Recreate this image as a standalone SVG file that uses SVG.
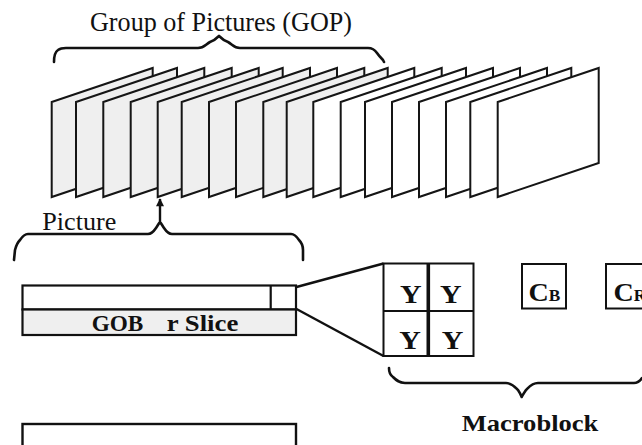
<svg xmlns="http://www.w3.org/2000/svg" width="642" height="445" viewBox="0 0 642 445" font-family="'Liberation Serif', 'Times New Roman', serif">
  <style>
    .frame { stroke: #151515; stroke-width: 2; stroke-linejoin: miter; }
    .gray { fill: #efefef; }
    .white { fill: #ffffff; }
    .brace { fill: none; stroke: #111; stroke-width: 2.6; stroke-linejoin: round; stroke-linecap: round; }
    .box { fill: #ffffff; stroke: #111; stroke-width: 2; }
    .line { fill: none; stroke: #111; stroke-width: 2.4; }
    text { font-family: 'Liberation Serif', 'Times New Roman', serif; fill: #111; }
  </style>
  <defs>
    <!-- one picture of the sequence, drawn as a skewed sheet -->
    <path id="sheet" d="M0,0 L101,-34 L101,61 L0,95 Z"/>
    <marker id="arrow" viewBox="0 0 10 10" refX="9" refY="5" markerWidth="9" markerHeight="8" orient="auto" markerUnits="userSpaceOnUse">
      <path d="M0,0 L10,5 L0,10 Z" fill="#111"/>
    </marker>
  </defs>
  <rect width="642" height="445" fill="#ffffff"/>

  <!-- Group of pictures -->
  <g id="gop">
    <text x="90" y="31" font-size="27" textLength="262" lengthAdjust="spacingAndGlyphs">Group of Pictures (GOP)</text>
    <path class="brace" d="M54,62 C54,56 55,52 58,50 C60,48.5 62,48 66,48 L198,48 C204,48 206,44 210,42 C213,41 216,39 219,36 C222,39 225,41 228,42 C232,44 234,48 240,48 L368,48 C373,48 375,50 377,53 C379,56 381,58 383,60 L384,62"/>
    <g id="frames">
      <use href="#sheet" class="frame gray" x="51.7" y="102"/>
      <use href="#sheet" class="frame gray" x="76" y="102"/>
      <use href="#sheet" class="frame gray" x="103.3" y="102"/>
      <use href="#sheet" class="frame gray" x="130.7" y="102"/>
      <use href="#sheet" class="frame gray" x="157.7" y="102"/>
      <use href="#sheet" class="frame gray" x="181.7" y="102"/>
      <use href="#sheet" class="frame gray" x="209" y="102"/>
      <use href="#sheet" class="frame gray" x="236" y="102"/>
      <use href="#sheet" class="frame gray" x="263.3" y="102"/>
      <use href="#sheet" class="frame gray" x="286.7" y="102"/>
      <use href="#sheet" class="frame white" x="313.3" y="102"/>
      <use href="#sheet" class="frame white" x="340.7" y="102"/>
      <use href="#sheet" class="frame white" x="365" y="102"/>
      <use href="#sheet" class="frame white" x="392" y="102"/>
      <use href="#sheet" class="frame white" x="419" y="102"/>
      <use href="#sheet" class="frame white" x="446" y="102"/>
      <use href="#sheet" class="frame white" x="470.3" y="102"/>
      <use href="#sheet" class="frame white" x="497.7" y="102"/>
    </g>
  </g>

  <!-- Picture -->
  <g id="picture">
    <text x="42.3" y="229.5" font-size="25" textLength="74" lengthAdjust="spacingAndGlyphs">Picture</text>
    <path class="brace" d="M14,260 L15,250 C16,246 17,243 20,240 C22,237 24,234 28,234 L148,234 C152,234 154,231 156,228 C158,225 159,223 160,222 C161,223 162,225 164,228 C166,231 168,234 172,234 L291,234 C295,234 297,237 299,240 C302,243 303,246 303,250 L303,260"/>
  </g>

  <!-- GOB or slice bar -->
  <g id="slice">
    <rect x="22.5" y="285.5" width="273.5" height="24" fill="#ffffff" stroke="#111" stroke-width="2.2"/>
    <rect x="22.5" y="309.5" width="273.5" height="25.5" fill="#efefef" stroke="#111" stroke-width="2.2"/>
    <line x1="270.7" y1="285.5" x2="270.7" y2="309.5" stroke="#111" stroke-width="2.2"/>
    <text font-weight="bold" y="330.5" font-size="24"><tspan x="91.7" textLength="51.6" lengthAdjust="spacingAndGlyphs">GOB</tspan><tspan x="166.7" textLength="71.6" lengthAdjust="spacingAndGlyphs">r Slice</tspan></text>
  </g>

  <!-- next picture, partly shown -->
  <g id="picture-next">
    <rect x="22.5" y="424" width="273.5" height="40" fill="#ffffff" stroke="#111" stroke-width="2.4"/>
  </g>

  <!-- zoom from one block of the slice to the macroblock -->
  <g id="connectors">
    <line class="line" x1="296.5" y1="287" x2="383.5" y2="263.5"/>
    <line class="line" x1="296.5" y1="309" x2="383.5" y2="356"/>
    <line x1="160" y1="221" x2="160" y2="199" stroke="#111" stroke-width="2.4" marker-end="url(#arrow)"/>
  </g>

  <!-- Macroblock: four luminance blocks and two chrominance blocks -->
  <g id="macroblock">
    <rect class="box" x="383.5" y="263.5" width="90" height="92.5"/>
    <line x1="383.5" y1="311" x2="473.5" y2="311" stroke="#111" stroke-width="2.2"/>
    <line x1="428.3" y1="263.5" x2="428.3" y2="356" stroke="#111" stroke-width="3.6"/>
    <g font-weight="bold" font-size="26" text-anchor="middle">
      <text transform="translate(410.8,302.8) scale(1.15,1)">Y</text>
      <text transform="translate(450.8,302.8) scale(1.15,1)">Y</text>
      <text transform="translate(410,348.5) scale(1.15,1)">Y</text>
      <text transform="translate(452.5,348.5) scale(1.15,1)">Y</text>
    </g>
    <path class="brace" d="M389,368 C389,372 390,375 393,377 C396,380 399,383 405,383 L506,383 C512,383 515,387 518,390 C520,393 521,395 521.7,397 C522.5,395 524,393 526,390 C529,387 532,383 538,383 L634,383 C638,383 640,381 642,378"/>
    <text font-weight="bold" x="461.7" y="430.5" font-size="24" textLength="136.7" lengthAdjust="spacingAndGlyphs">Macroblock</text>
  </g>

  <g id="cb">
    <rect class="box" x="522" y="264" width="44" height="44.5"/>
    <text font-weight="bold" font-size="26" transform="translate(528.5,300.5) scale(1.08,1)">C<tspan font-size="16">B</tspan></text>
  </g>

  <g id="cr">
    <rect class="box" x="606" y="264" width="44" height="44.5"/>
    <text font-weight="bold" font-size="26" transform="translate(613.5,300.5) scale(1.08,1)">C<tspan font-size="16">R</tspan></text>
  </g>
</svg>
